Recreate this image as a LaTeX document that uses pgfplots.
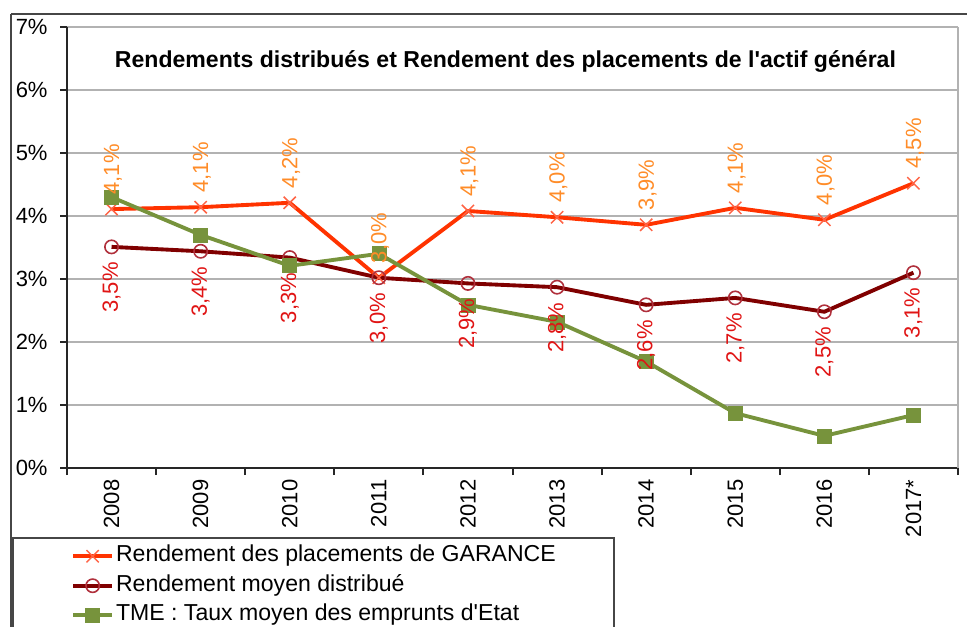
\documentclass[border=0pt]{standalone}
\usepackage{fontspec}
\setmainfont{Liberation Sans}
\usepackage{pgfplots}
\usepackage{pgfplotstable}
\pgfplotsset{compat=1.18}

\definecolor{garance}{RGB}{255,51,0}
\definecolor{garancemark}{RGB}{255,100,70}
\definecolor{garancelab}{RGB}{255,140,40}
\definecolor{distrib}{RGB}{128,0,0}
\definecolor{distribmark}{RGB}{176,48,60}
\definecolor{distriblab}{RGB}{224,20,20}
\definecolor{tme}{RGB}{119,147,60}
\definecolor{gridc}{RGB}{178,178,178}
\definecolor{framec}{RGB}{70,70,70}

\pgfplotstableread{
x y lab
0 4.11 4,1
1 4.14 4,1
2 4.21 4,2
3 3.02 3,0
4 4.08 4,1
5 3.98 4,0
6 3.86 3,9
7 4.13 4,1
8 3.94 4,0
9 4.52 4,5
}\garancetab

\pgfplotstableread{
x y lab
0 3.51 3,5
1 3.44 3,4
2 3.34 3,3
3 3.02 3,0
4 2.93 2,9
5 2.87 2,8
6 2.59 2,6
7 2.70 2,7
8 2.48 2,5
9 3.10 3,1
}\distribtab

\pgfplotstableread{
x y
0 4.30
1 3.70
2 3.21
3 3.40
4 2.59
5 2.32
6 1.69
7 0.87
8 0.51
9 0.84
}\tmetab

\begin{document}
\begin{tikzpicture}[x=0.75pt,y=-0.75pt]
\useasboundingbox (0,0) rectangle (967,627);
% outer frame
\draw[framec, line width=1pt] (11,14) -- (967,14);
\draw[framec, line width=1pt] (11,14) -- (11,627);

\begin{axis}[
  at={(50.25pt,-351pt)}, anchor=south west,
  scale only axis, width=668.25pt, height=330.75pt,
  xmin=-0.5, xmax=9.5, ymin=0, ymax=7,
  axis x line*=bottom, axis y line*=left,
  axis line style={line width=1.5pt, color=black!85},
  xtick={0,...,9},
  xticklabels={2008,2009,2010,2011,2012,2013,2014,2015,2016,2017*},
  minor xtick={-0.5,0.5,...,9.5},
  ytick={0,1,2,3,4,5,6,7},
  yticklabels={0\%,1\%,2\%,3\%,4\%,5\%,6\%,7\%},
  tick align=outside,
  major tick length=5.25pt, minor tick length=5.25pt,
  tick style={black!85, line width=1.5pt},
  every major x tick/.append style={draw=none},
  ymajorgrids, grid style={gridc, line width=1.2pt},
  xticklabel style={rotate=90, anchor=east, font=\fontsize{16.5}{18}\selectfont},
  yticklabel style={font=\fontsize{16.5}{18}\selectfont, xshift=-5.8pt},
  clip=false,
  legend cell align=left,
  legend columns=1,
  legend image code/.code={\draw[mark repeat=2, mark phase=2, #1] plot coordinates {(0pt,0pt) (14.6pt,0pt) (29.2pt,0pt)};},
  legend style={at={(0.0045,-0.1723)}, anchor=north west, draw=none, fill=none,
    inner sep=0pt, row sep=4.1pt,
    nodes={inner xsep=1.5pt, inner ysep=0pt, text height=13pt, text depth=5pt},
    font=\fontsize{17.3}{20}\selectfont},
]
\draw[gridc, line width=1.2pt] (rel axis cs:1,0) -- (rel axis cs:1,1);

\addplot[garance, line width=2.9pt, mark=x, mark size=6.5pt,
  mark options={garancemark, line width=1.1pt}]
  table[x=x, y=y] {\garancetab};
\addlegendentry{Rendement des placements de GARANCE}

\addplot[distrib, line width=2.9pt, mark=o, mark size=5pt,
  mark options={distribmark, line width=1.2pt}]
  table[x=x, y=y] {\distribtab};
\addlegendentry{Rendement moyen distribué}

\addplot[tme, line width=2.9pt, mark=square*, mark size=5.25pt,
  mark options={tme, fill=tme, line width=0.5pt}]
  table[x=x, y=y] {\tmetab};
\addlegendentry{TME : Taux moyen des emprunts d\textquotesingle Etat}

% data labels
\addplot[draw=none, mark=none, forget plot, point meta=explicit symbolic,
  nodes near coords={\pgfplotspointmeta\%},
  every node near coord/.append style={font=\fontsize{16.5}{18}\selectfont, text=garancelab,
    xshift=1pt, yshift=7.5pt, rotate=90, anchor=west}]
  table[x=x, y=y, meta=lab] {\garancetab};

\addplot[draw=none, mark=none, forget plot, point meta=explicit symbolic,
  nodes near coords={\pgfplotspointmeta\%},
  every node near coord/.append style={font=\fontsize{16.5}{18}\selectfont, text=distriblab,
    xshift=0pt, yshift=-8pt, rotate=90, anchor=east}]
  table[x=x, y=y, meta=lab] {\distribtab};
\end{axis}

% title
\node[anchor=base, font=\bfseries\fontsize{17.3}{20}\selectfont] at (505.5,68)
  {Rendements distribués et Rendement des placements de l\textquotesingle actif général};
% legend frame
\draw[framec, line width=1pt] (13,627) -- (13,538) -- (614,538) -- (614,627);
\end{tikzpicture}
\end{document}
